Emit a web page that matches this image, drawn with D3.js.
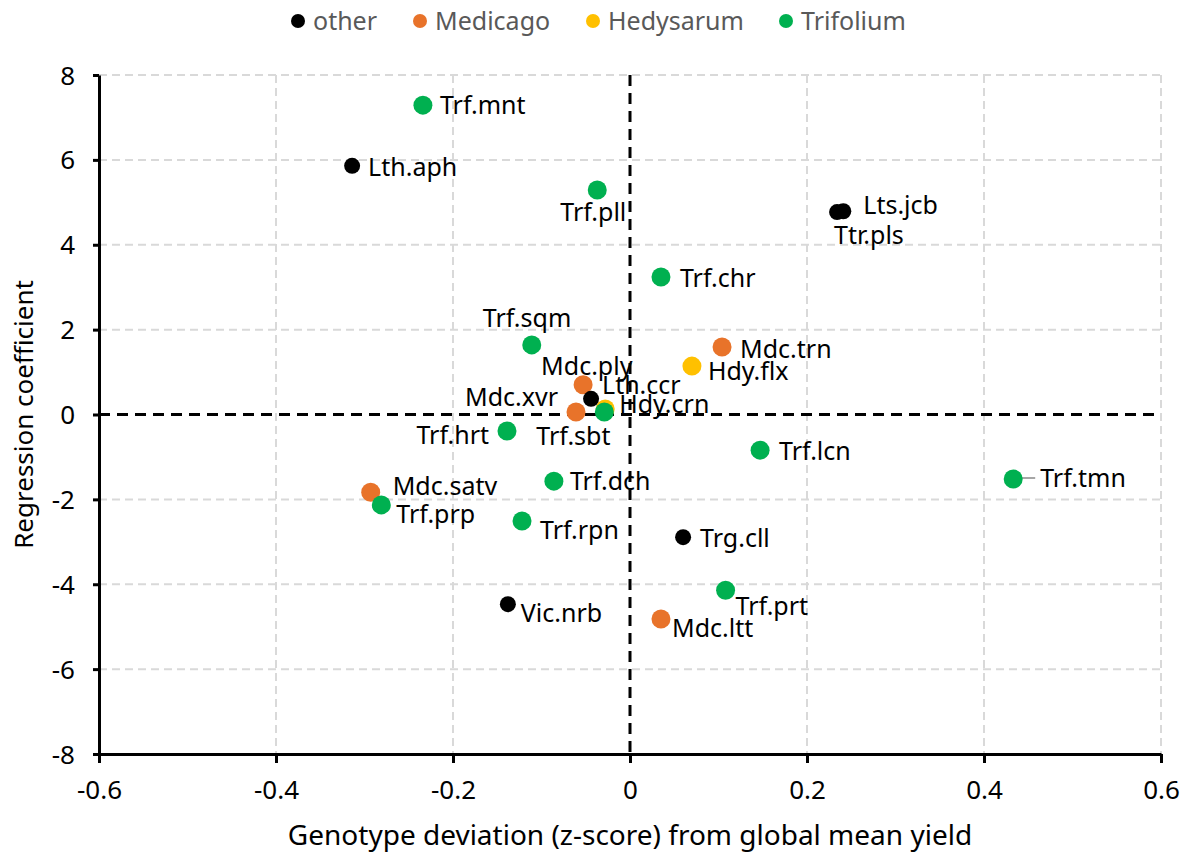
<!DOCTYPE html>
<html>
<head>
<meta charset="utf-8">
<script src="https://cdn.jsdelivr.net/npm/d3@7"></script>
<style>
  html, body { margin: 0; padding: 0; background: #fff; }
  svg { display: block; font-family: "Noto Sans", "Open Sans", sans-serif; }
</style>
</head>
<body>
<svg id="chart" width="1186" height="852"></svg>
<script>
// Genotype groups, in legend order
const groups = ["other", "Medicago", "Hedysarum", "Trifolium"];
const groupColors = ["#000000", "#E8732A", "#FFC000", "#00B050"];

// Points per group: genotype deviation (x) and regression coefficient (y)
const otherPts = [
  { name: "Lth.aph", x: -0.314, y: 5.86 },
  { name: "Lts.jcb", x: 0.241, y: 4.79 },
  { name: "Ttr.pls", x: 0.234, y: 4.77 },
  { name: "Lth.ccr", x: -0.044, y: 0.37 },
  { name: "Trg.cll", x: 0.060, y: -2.89 },
  { name: "Vic.nrb", x: -0.138, y: -4.47 }
];
const medicagoPts = [
  { name: "Mdc.trn", x: 0.104, y: 1.59 },
  { name: "Mdc.ply", x: -0.053, y: 0.70 },
  { name: "Mdc.xvr", x: -0.061, y: 0.06 },
  { name: "Mdc.satv", x: -0.293, y: -1.83 },
  { name: "Mdc.ltt", x: 0.035, y: -4.82 }
];
const hedysarumPts = [
  { name: "Hdy.flx", x: 0.070, y: 1.14 },
  { name: "Hdy.crn", x: -0.028, y: 0.13 }
];
const trifoliumPts = [
  { name: "Trf.mnt", x: -0.234, y: 7.29 },
  { name: "Trf.pll", x: -0.037, y: 5.29 },
  { name: "Trf.chr", x: 0.035, y: 3.24 },
  { name: "Trf.sqm", x: -0.111, y: 1.64 },
  { name: "Trf.sbt", x: -0.029, y: 0.06 },
  { name: "Trf.hrt", x: -0.139, y: -0.39 },
  { name: "Trf.lcn", x: 0.147, y: -0.84 },
  { name: "Trf.tmn", x: 0.433, y: -1.52 },
  { name: "Trf.dch", x: -0.086, y: -1.57 },
  { name: "Trf.prp", x: -0.281, y: -2.13 },
  { name: "Trf.rpn", x: -0.122, y: -2.51 },
  { name: "Trf.prt", x: 0.108, y: -4.14 }
];

// Axis ticks
const xTicks = [-0.6, -0.4, -0.2, 0, 0.2, 0.4, 0.6];
const yTicks = [-8, -6, -4, -2, 0, 2, 4, 6, 8];
const xTitle = "Genotype deviation (z-score) from global mean yield";
const yTitle = "Regression coefficient";

// Label placement relative to each marker: [dx, dy, anchor]
const labelPlacement = {
  "Trf.mnt": [17, 0, "start"], "Lth.aph": [16, 1, "start"],
  "Trf.pll": [-37, 22, "start"], "Lts.jcb": [20, -6, "start"],
  "Ttr.pls": [-3, 23, "start"], "Trf.chr": [19, 1, "start"],
  "Trf.sqm": [-49, -27, "start"], "Mdc.trn": [18, 2, "start"],
  "Hdy.flx": [16, 5, "start"], "Mdc.ply": [-42, -19, "start"],
  "Lth.ccr": [11, -14, "start"], "Hdy.crn": [14, -5, "start"],
  "Mdc.xvr": [-18, -15, "end"], "Trf.sbt": [-68, 24, "start"],
  "Trf.hrt": [-18, 4, "end"], "Trf.lcn": [19, 1, "start"],
  "Trf.tmn": [27, -1, "start"], "Mdc.satv": [22, -6, "start"],
  "Trf.dch": [16, 0, "start"], "Trf.prp": [15, 9, "start"],
  "Trf.rpn": [18, 9, "start"], "Trg.cll": [17, 1, "start"],
  "Trf.prt": [10, 16, "start"], "Vic.nrb": [13, 9, "start"],
  "Mdc.ltt": [11, 9, "start"]
};

const series = [
  { key: "Medicago", pts: medicagoPts, r: 9.5 },
  { key: "Hedysarum", pts: hedysarumPts, r: 9.5 },
  { key: "Trifolium", pts: trifoliumPts, r: 9.5 },
  { key: "other", pts: otherPts, r: 8 }
];
const color = d3.scaleOrdinal().domain(groups).range(groupColors);

const svg = d3.select("#chart");
const margin = { left: 99, right: 25, top: 75, bottom: 98 };
const W = 1186, H = 852;

const x = d3.scaleLinear().domain([-0.6, 0.6]).range([margin.left, W - margin.right]);
const y = d3.scaleLinear().domain([-8, 8]).range([H - margin.bottom, margin.top]);

// Gridlines
const grid = svg.append("g");
grid.selectAll("line.gx").data(xTicks.filter(v => v !== -0.6 && v !== 0)).join("line")
  .attr("x1", d => x(d)).attr("x2", d => x(d))
  .attr("y1", y(8)).attr("y2", y(-8))
  .attr("stroke", "#d9d9d9").attr("stroke-width", 2).attr("stroke-dasharray", "8,5");
grid.selectAll("line.gy").data(yTicks.filter(v => v !== -8 && v !== 0)).join("line")
  .attr("x1", x(-0.6)).attr("x2", x(0.6))
  .attr("y1", d => y(d)).attr("y2", d => y(d))
  .attr("stroke", "#d9d9d9").attr("stroke-width", 2).attr("stroke-dasharray", "8,5");

// Zero reference lines
svg.append("line")
  .attr("x1", x(0)).attr("x2", x(0)).attr("y1", y(8)).attr("y2", y(-8))
  .attr("stroke", "#000").attr("stroke-width", 3).attr("stroke-dasharray", "11,7");
svg.append("line")
  .attr("x1", x(-0.6)).attr("x2", x(0.6)).attr("y1", y(0)).attr("y2", y(0))
  .attr("stroke", "#000").attr("stroke-width", 3).attr("stroke-dasharray", "11,7");

// Axes (plain hyphen for negative tick labels)
const tickFmt = d => d === 0 ? "0" : d3.format(".1f")(d).replace("\u2212", "-");
const yFmt = d => String(d);
const xAxis = svg.append("g")
  .attr("transform", `translate(0,${y(-8)})`)
  .call(d3.axisBottom(x).tickValues(xTicks).tickSize(9).tickSizeOuter(0).tickFormat(tickFmt));
const yAxis = svg.append("g")
  .attr("transform", `translate(${x(-0.6)},0)`)
  .call(d3.axisLeft(y).tickValues(yTicks).tickSize(6).tickSizeOuter(0).tickFormat(yFmt));
[xAxis, yAxis].forEach(a => {
  a.select(".domain").attr("stroke", "#000").attr("stroke-width", 3);
  a.selectAll(".tick line").attr("stroke", "#000").attr("stroke-width", 3);
  a.selectAll(".tick text").attr("fill", "#000").style("font-size", "26px")
    .style("font-family", "'Noto Sans', sans-serif");
});
xAxis.selectAll(".tick text").attr("y", 36).attr("dy", "0.35em");
yAxis.selectAll(".tick text").attr("x", -24).attr("dy", "0.35em");

// Axis titles
svg.append("text").attr("x", (x(-0.6) + x(0.6)) / 2).attr("y", 835).attr("dy", "0.35em")
  .attr("text-anchor", "middle").style("font-size", "28px").attr("fill", "#000").text(xTitle);
svg.append("text").attr("transform", `translate(24,${y(0)}) rotate(-90)`).attr("dy", "0.35em")
  .attr("text-anchor", "middle").style("font-size", "26px").attr("fill", "#000").text(yTitle);

// Leader line for Trf.tmn
const tmn = trifoliumPts.find(p => p.name === "Trf.tmn");
svg.append("line")
  .attr("x1", x(tmn.x) + 3).attr("x2", x(tmn.x) + 22)
  .attr("y1", y(tmn.y) - 1).attr("y2", y(tmn.y) - 1)
  .attr("stroke", "#a6a6a6").attr("stroke-width", 2);

// Markers
series.forEach(s => {
  svg.append("g").selectAll("circle").data(s.pts).join("circle")
    .attr("cx", d => x(d.x)).attr("cy", d => y(d.y)).attr("r", s.r)
    .attr("fill", color(s.key));
});

// Point labels
const allPts = [].concat(otherPts, medicagoPts, hedysarumPts, trifoliumPts);
svg.append("g").selectAll("text").data(allPts).join("text")
  .attr("x", d => x(d.x) + labelPlacement[d.name][0])
  .attr("y", d => y(d.y) + labelPlacement[d.name][1])
  .attr("dy", "0.35em")
  .attr("text-anchor", d => labelPlacement[d.name][2])
  .style("font-size", "25px").attr("fill", "#000")
  .text(d => d.name);

// Legend
const legendX = [298, 420, 593, 786];
const legend = svg.append("g");
groups.forEach((g, i) => {
  legend.append("circle").attr("cx", legendX[i]).attr("cy", 21).attr("r", 7).attr("fill", groupColors[i]);
  legend.append("text").attr("x", legendX[i] + 15).attr("y", 21).attr("dy", "0.35em")
    .style("font-size", "25px").attr("fill", "#595959").text(g);
});
</script>
</body>
</html>
